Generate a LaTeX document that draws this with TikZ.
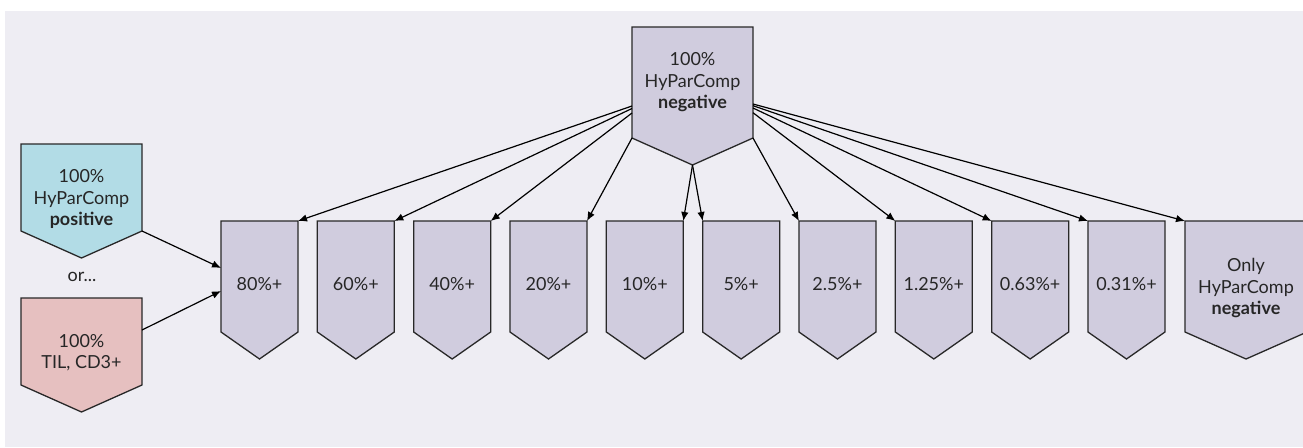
\documentclass[tikz,border=0pt]{standalone}
\usepackage{fontspec}
\setmainfont{Lato}
\usetikzlibrary{arrows.meta,calc}
\pgfdeclarelayer{back}
\pgfdeclarelayer{bg}
\pgfsetlayers{back,bg,main}
\definecolor{bgc}{RGB}{238,237,243}
\definecolor{lav}{RGB}{208,204,222}
\definecolor{blu}{RGB}{178,220,230}
\definecolor{pnk}{RGB}{230,192,192}
\definecolor{edgec}{RGB}{40,40,40}
\tikzset{
  boxnode/.style={shape=rectangle, inner sep=0pt, outer sep=0pt},
  smallbox/.style={boxnode, minimum width=77pt, minimum height=111pt},
  txt/.style={align=center, inner sep=0pt, font=\fontsize{18pt}{21.5pt}\selectfont, text=black!85},
  pentline/.style={draw=edgec, line width=1.3pt},
  conn/.style={draw=black, line width=1.2pt, -{Latex[length=9pt,width=7.5pt]}},
}
\newcommand\pentagonunder[2]{%
  \begin{pgfonlayer}{bg}
    \filldraw[pentline, fill=#2] (#1.south west) -- (#1.north west) -- (#1.north east) -- (#1.south east) -- ([yshift=-27pt]#1.south) -- cycle;
  \end{pgfonlayer}}
\begin{document}
\begin{tikzpicture}[x=1pt, y=-1pt]
\useasboundingbox (0,0) rectangle (1303,447);
\begin{pgfonlayer}{back}
  \fill[white] (0,0) rectangle (1303,447);
  \fill[bgc] (5,11) rectangle (1303,447);
\end{pgfonlayer}

% top node
\node[boxnode, minimum width=121pt, minimum height=111pt] (top) at (692.5,82.5) {};
\pentagonunder{top}{lav}
\node[txt] (ttop) at (692.5,82.5) {100\%\\HyParComp\\\textbf{negative}};
\coordinate (toptip) at ([yshift=-27pt]top.south);

% left nodes
\node[boxnode, minimum width=121pt, minimum height=87pt] (pos) at (81.5,187.5) {};
\pentagonunder{pos}{blu}
\node[txt] (tpos) at (81.5,199) {100\%\\HyParComp\\\textbf{positive}};

\node[txt] (or) at (82,277) {or...};

\node[boxnode, minimum width=121pt, minimum height=87pt] (til) at (81.5,341.5) {};
\pentagonunder{til}{pnk}
\node[txt] (ttil) at (81.5,352.5) {100\%\\TIL, CD3+};

% small boxes
\foreach \nm/\lab [count=\i from 0] in {b80/80\%+, b60/60\%+, b40/40\%+, b20/20\%+, b10/10\%+, b5/5\%+, b25/2.5\%+, b125/1.25\%+, b063/0.63\%+, b031/0.31\%+}{
  \node[smallbox] (\nm) at ({221+96.33*\i+38.5},276.5) {};
  \pentagonunder{\nm}{lav}
  \node[txt] (t\nm) at ({221+96.33*\i+38.5},284) {\lab};
}
\node[boxnode, minimum width=122pt, minimum height=111pt] (only) at (1246,276.5) {};
\pentagonunder{only}{lav}
\node[txt] (tonly) at (1246,288) {Only\\HyParComp\\\textbf{negative}};

% connectors
\draw[conn] (pos.south east) -- ([yshift=8.5pt]b80.west);
\draw[conn] ([yshift=11.5pt]til.east) -- ([yshift=-14.5pt]b80.west);

\draw[conn] ([yshift=-23.5pt]top.west) -- (b80.north east);
\draw[conn] ([yshift=-26pt]top.west) -- (b60.north east);
\draw[conn] ([yshift=-30.5pt]top.west) -- (b40.north east);
\draw[conn] (top.south west) -- (b20.north east);
\draw[conn] (toptip) -- (b10.north east);
\draw[conn] (toptip) -- (b5.north west);
\draw[conn] (top.south east) -- (b25.north west);
\draw[conn] ([yshift=-30.2pt]top.east) -- (b125.north west);
\draw[conn] ([yshift=-25.5pt]top.east) -- (b063.north west);
\draw[conn] ([yshift=-23.2pt]top.east) -- (b031.north west);
\draw[conn] ([yshift=-21.5pt]top.east) -- (only.north west);
\end{tikzpicture}
\end{document}
